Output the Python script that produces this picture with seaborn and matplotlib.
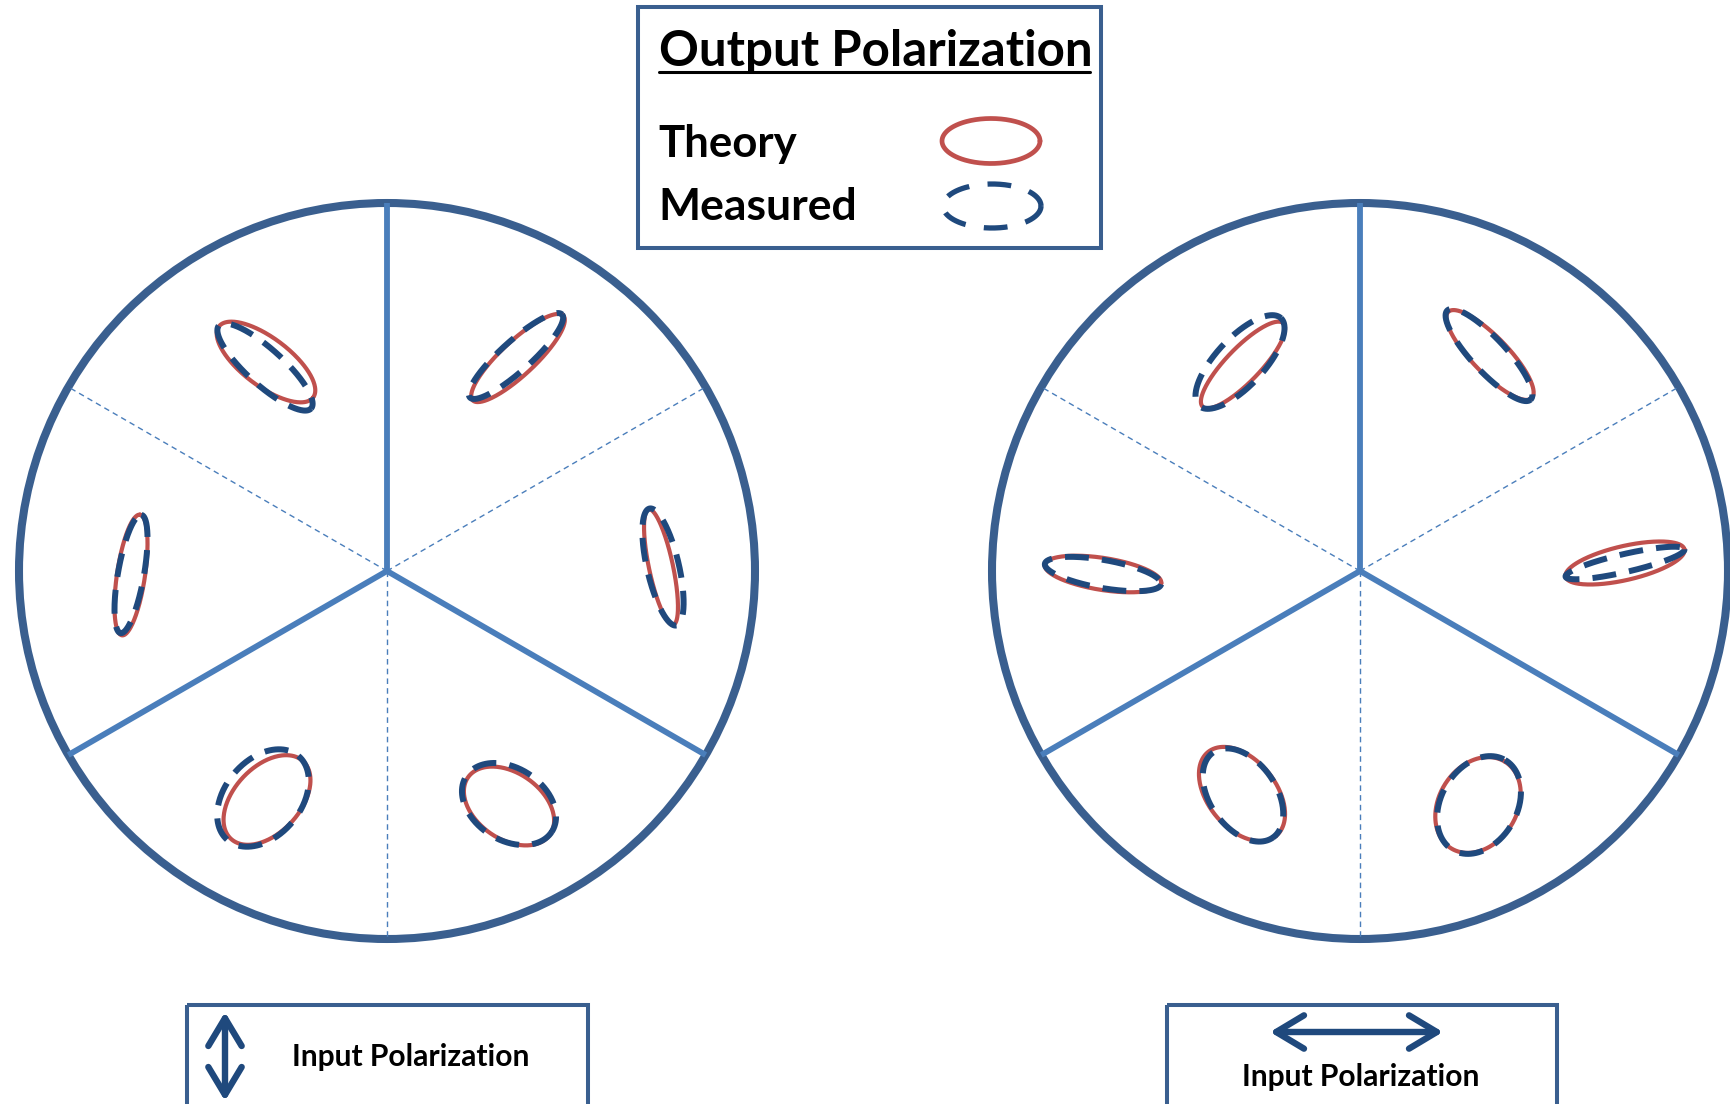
import numpy as np
import matplotlib
matplotlib.use("Agg")
import matplotlib.pyplot as plt
from matplotlib.patches import Circle, Rectangle, FancyArrowPatch
import seaborn as sns

# ellipse parameters (pixel coords, y down)
# order per panel: top-left, top-right, left, right, bottom-left, bottom-right
theory_cx = [266, 518, 131, 661, 267, 509, 1243, 1490, 1103, 1625, 1242, 1478]
theory_cy = [362, 358, 575, 567, 800, 806, 365, 355, 574, 563, 794, 805]
theory_a = [59, 62, 61, 59, 53, 50, 58, 60, 59, 61, 54, 51]
theory_b = [24, 17, 14, 12, 33, 33, 17, 18, 16, 17, 34, 39]
theory_ang = [37, -43, -81.5, 78, -47, 35, -46, 46, 9, -13, 51, -58]

measured_cx = [265, 516, 131, 663, 263, 509, 1240, 1489, 1103, 1625, 1243, 1479]
measured_cy = [367, 356, 574, 567, 798, 804, 362, 355, 574, 563, 795, 805]
measured_a = [62, 62, 60, 60, 55, 51, 60, 61, 59, 61, 52, 52]
measured_b = [18, 15, 13, 16, 38, 36, 24, 17, 14, 9, 33, 38]
measured_ang = [42, -42, -80, 77, -50, 33, -47, 47, 10, -13, 55, -60]

wheel_x = [387, 1360]
wheel_y = [571, 571]
wheel_r = 368
solid_spokes = [90, 210, 330]
dashed_spokes = [30, 150, 270]

RED = "#C0504D"
DARK = "#1F497D"
RIM = "#3A5F8F"
SPOKE = "#4A7EBB"

sns.set_theme(style="white")
plt.rcParams["font.family"] = ["Lato", "DejaVu Sans"]
plt.rcParams["text.color"] = "black"

t = np.linspace(0, 2 * np.pi, 300)


def outline(cx, cy, a, b, ang):
    th = np.deg2rad(ang)
    x = cx + a * np.cos(t) * np.cos(th) - b * np.sin(t) * np.sin(th)
    y = cy + a * np.cos(t) * np.sin(th) + b * np.sin(t) * np.cos(th)
    return x, y


fig = plt.figure(figsize=(17.31, 11.04), dpi=100)
ax = fig.add_axes([0, 0, 1, 1])

for cx, cy in zip(wheel_x, wheel_y):
    for ang in dashed_spokes:
        r = np.deg2rad(ang)
        ax.plot([cx, cx + wheel_r * np.cos(r)], [cy, cy - wheel_r * np.sin(r)],
                color=SPOKE, lw=1.0, linestyle=(0, (4, 3)))
    for ang in solid_spokes:
        r = np.deg2rad(ang)
        ax.plot([cx, cx + wheel_r * np.cos(r)], [cy, cy - wheel_r * np.sin(r)],
                color=SPOKE, lw=4.2, solid_capstyle="butt")
    ax.add_patch(Circle((cx, cy), wheel_r, fill=False, ec=RIM, lw=5.8))

for i in range(len(theory_cx)):
    x, y = outline(theory_cx[i], theory_cy[i], theory_a[i], theory_b[i], theory_ang[i])
    sns.lineplot(x=x, y=y, sort=False, estimator=None, color=RED, lw=3.0, ax=ax)
    x, y = outline(measured_cx[i], measured_cy[i], measured_a[i], measured_b[i], measured_ang[i])
    sns.lineplot(x=x, y=y, sort=False, estimator=None, color=DARK, lw=4.3,
                 linestyle=(0, (4.0, 2.2)), ax=ax)

# legend box
ax.add_patch(Rectangle((638, 7), 463, 241, fill=False, ec=RIM, lw=2.9))
ax.text(659, 66, "Output Polarization", fontsize=35.5, fontweight="bold", ha="left", va="baseline")
ax.plot([659, 1090], [72, 72], color="black", lw=2.2)
ax.text(658, 157, "Theory", fontsize=31.5, fontweight="bold", ha="left", va="baseline")
ax.text(658, 220, "Measured", fontsize=32, fontweight="bold", ha="left", va="baseline")
x, y = outline(991, 141, 49, 22.5, 0)
sns.lineplot(x=x, y=y, sort=False, estimator=None, color=RED, lw=3.4, ax=ax)
x, y = outline(992, 206, 49, 22, 0)
sns.lineplot(x=x, y=y, sort=False, estimator=None, color=DARK, lw=3.8,
             linestyle=(0, (4.5, 3.5)), ax=ax)

# input polarization boxes
ax.add_patch(Rectangle((187, 1005), 401, 130, fill=False, ec=RIM, lw=2.9))
ax.add_patch(Rectangle((1167, 1005), 390, 130, fill=False, ec=RIM, lw=2.9))
ax.add_patch(FancyArrowPatch((225, 1012), (225, 1101), arrowstyle="<->,head_length=1.0,head_width=0.6",
                             mutation_scale=20, color=DARK, lw=4.6, capstyle="round", joinstyle="round",
                             shrinkA=0, shrinkB=0))
ax.add_patch(FancyArrowPatch((1270, 1032), (1443, 1032), arrowstyle="<->,head_length=1.0,head_width=0.6",
                             mutation_scale=20, color=DARK, lw=4.6, capstyle="round", joinstyle="round",
                             shrinkA=0, shrinkB=0))
ax.text(411, 1066, "Input Polarization", fontsize=21.6, fontweight="bold", ha="center", va="baseline")
ax.text(1361, 1086, "Input Polarization", fontsize=21.6, fontweight="bold", ha="center", va="baseline")

ax.set_xlim(0, 1731)
ax.set_ylim(1104, 0)
ax.axis("off")

fig.savefig("out.png", dpi=100)
